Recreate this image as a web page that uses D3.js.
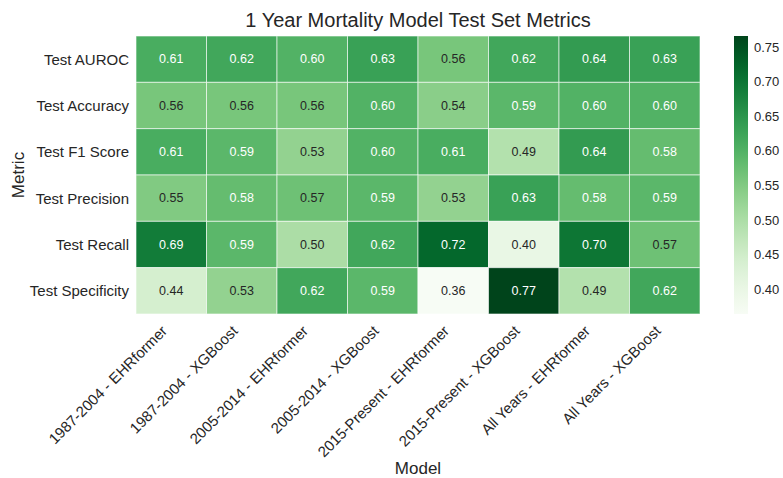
<!DOCTYPE html>
<html>
<head>
<meta charset="utf-8">
<script src="https://cdn.jsdelivr.net/npm/d3@7"></script>
<style>
  body { margin: 0; background: #fff; }
  text { font-family: "Liberation Sans", Arial, sans-serif; fill: #262626; }
</style>
</head>
<body>
<div id="chart"></div>
<script>
// categories
var models = ["1987-2004 - EHRformer", "1987-2004 - XGBoost", "2005-2014 - EHRformer", "2005-2014 - XGBoost",
              "2015-Present - EHRformer", "2015-Present - XGBoost", "All Years - EHRformer", "All Years - XGBoost"];
var metrics = ["Test AUROC", "Test Accuracy", "Test F1 Score", "Test Precision", "Test Recall", "Test Specificity"];

// values, one row per metric (same order as models)
var auroc       = [0.61, 0.62, 0.60, 0.63, 0.56, 0.62, 0.64, 0.63];
var accuracy    = [0.56, 0.56, 0.56, 0.60, 0.54, 0.59, 0.60, 0.60];
var f1score     = [0.61, 0.59, 0.53, 0.60, 0.61, 0.49, 0.64, 0.58];
var precision   = [0.55, 0.58, 0.57, 0.59, 0.53, 0.63, 0.58, 0.59];
var recall      = [0.69, 0.59, 0.50, 0.62, 0.72, 0.40, 0.70, 0.57];
var specificity = [0.44, 0.53, 0.62, 0.59, 0.364, 0.766, 0.49, 0.62];

var colorTicks = [0.40, 0.45, 0.50, 0.55, 0.60, 0.65, 0.70, 0.75];

var rows = [auroc, accuracy, f1score, precision, recall, specificity];

// flatten into cells
var cells = [];
rows.forEach(function(r, i) {
  r.forEach(function(v, j) {
    cells.push({metric: metrics[i], model: models[j], value: v});
  });
});

var width = 783, height = 478;
var margin = {top: 36, left: 136, right: 83, bottom: 164};
var plotW = 700 - margin.left, plotH = 314 - margin.top;

var svg = d3.select("#chart").append("svg")
  .attr("width", width).attr("height", height);

var x = d3.scaleBand().domain(models).range([margin.left, margin.left + plotW]);
var y = d3.scaleBand().domain(metrics).range([margin.top, margin.top + plotH]);

var allVals = d3.merge(rows);
var color = d3.scaleSequential(d3.interpolateGreens).domain(d3.extent(allVals));

// pick text colour the way seaborn does: by luminance of the cell
function textColor(v) {
  var c = d3.rgb(color(v));
  var lin = [c.r, c.g, c.b].map(function(u) {
    u = u / 255;
    return u <= 0.03928 ? u / 12.92 : Math.pow((u + 0.055) / 1.055, 2.4);
  });
  var lum = 0.2126 * lin[0] + 0.7152 * lin[1] + 0.0722 * lin[2];
  return lum > 0.408 ? "#262626" : "#ffffff";
}

// heatmap cells
svg.append("g").selectAll("rect")
  .data(cells)
  .enter().append("rect")
    .attr("x", function(d) { return x(d.model); })
    .attr("y", function(d) { return y(d.metric); })
    .attr("width", x.bandwidth())
    .attr("height", y.bandwidth())
    .attr("fill", function(d) { return color(d.value); })
    .attr("stroke", "#ffffff")
    .attr("stroke-opacity", 0.6)
    .attr("stroke-width", 1);

svg.append("g").selectAll("text")
  .data(cells)
  .enter().append("text")
    .attr("x", function(d) { return x(d.model) + x.bandwidth() / 2; })
    .attr("y", function(d) { return y(d.metric) + y.bandwidth() / 2; })
    .attr("text-anchor", "middle")
    .attr("dominant-baseline", "central")
    .style("font-size", "12.5px")
    .style("fill", function(d) { return textColor(d.value); })
    .text(function(d) { return d3.format(".2f")(d.value); });

// y axis labels
svg.append("g").selectAll("text")
  .data(metrics)
  .enter().append("text")
    .attr("x", margin.left - 7)
    .attr("y", function(d) { return y(d) + y.bandwidth() / 2; })
    .attr("text-anchor", "end")
    .attr("dominant-baseline", "central")
    .style("font-size", "15px")
    .text(function(d) { return d; });

// x axis labels, rotated
svg.append("g").selectAll("text")
  .data(models)
  .enter().append("text")
    .attr("transform", function(d) {
      return "translate(" + (x(d) + x.bandwidth() / 2 - 7) + "," + (margin.top + plotH + 14) + ") rotate(-45)";
    })
    .attr("text-anchor", "end")
    .attr("dominant-baseline", "central")
    .style("font-size", "15px")
    .text(function(d) { return d; });

// title and axis titles
svg.append("text")
  .attr("x", margin.left + plotW / 2).attr("y", 20)
  .attr("text-anchor", "middle").attr("dominant-baseline", "central")
  .style("font-size", "20px")
  .text("1 Year Mortality Model Test Set Metrics");

svg.append("text")
  .attr("x", margin.left + plotW / 2).attr("y", 468)
  .attr("text-anchor", "middle").attr("dominant-baseline", "central")
  .style("font-size", "17px")
  .text("Model");

svg.append("text")
  .attr("transform", "translate(18," + (margin.top + plotH / 2) + ") rotate(-90)")
  .attr("text-anchor", "middle").attr("dominant-baseline", "central")
  .style("font-size", "17px")
  .text("Metric");

// colorbar
var cbX = 734, cbW = 14;
var cbScale = d3.scaleLinear().domain(color.domain()).range([margin.top + plotH, margin.top]);

var defs = svg.append("defs");
var grad = defs.append("linearGradient").attr("id", "cbgrad")
  .attr("x1", "0%").attr("y1", "100%").attr("x2", "0%").attr("y2", "0%");
d3.range(0, 1.0001, 0.05).forEach(function(t) {
  grad.append("stop").attr("offset", (t * 100) + "%")
    .attr("stop-color", d3.interpolateGreens(t));
});

svg.append("rect")
  .attr("x", cbX).attr("y", margin.top)
  .attr("width", cbW).attr("height", plotH)
  .attr("fill", "url(#cbgrad)");

var cbAxis = d3.axisRight(cbScale).tickValues(colorTicks).tickFormat(d3.format(".2f")).tickSize(0).tickPadding(6);
var cbG = svg.append("g")
  .attr("transform", "translate(" + (cbX + cbW) + ",0)")
  .call(cbAxis);
cbG.select(".domain").remove();
cbG.selectAll("text").style("font-size", "13px").style("fill", "#262626")
  .attr("font-family", "Liberation Sans, Arial, sans-serif");
</script>
</body>
</html>
